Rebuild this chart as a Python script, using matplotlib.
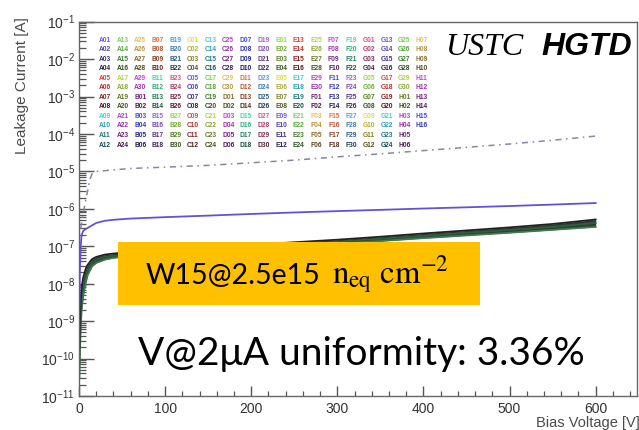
import numpy as np
import matplotlib
matplotlib.use("Agg")
import matplotlib.pyplot as plt
from matplotlib.patches import Rectangle
from matplotlib.ticker import MultipleLocator, FixedLocator, NullFormatter
import matplotlib.colors as mcolors

# ---------------- data ----------------
bundle_voltage = [0.5, 1, 2, 3, 5, 8, 10, 15, 20, 30, 40, 60, 100, 150, 200,
                  250, 300, 350, 400, 450, 500, 550, 600]
bundle_low = [3e-11, 1.5e-10, 6e-10, 2e-9, 5e-9, 1.1e-8, 1.7e-8, 2.9e-8, 3.6e-8,
              4.4e-8, 4.9e-8, 5.5e-8, 6.3e-8, 7.5e-8, 8.7e-8, 1.0e-7, 1.18e-7,
              1.38e-7, 1.65e-7, 1.95e-7, 2.3e-7, 2.75e-7, 3.3e-7]
bundle_mid = [8e-11, 4e-10, 1.5e-9, 4e-9, 9e-9, 1.7e-8, 2.3e-8, 3.6e-8, 4.3e-8,
              5.2e-8, 5.6e-8, 6.2e-8, 7.1e-8, 8.4e-8, 9.8e-8, 1.13e-7, 1.33e-7,
              1.58e-7, 1.9e-7, 2.3e-7, 2.72e-7, 3.3e-7, 4.2e-7]
bundle_high = [2e-10, 1e-9, 4e-9, 8e-9, 1.5e-8, 2.6e-8, 3.2e-8, 4.5e-8, 5.2e-8,
               6.0e-8, 6.4e-8, 7.0e-8, 8.0e-8, 9.5e-8, 1.1e-7, 1.28e-7, 1.5e-7,
               1.8e-7, 2.2e-7, 2.65e-7, 3.2e-7, 3.95e-7, 5.2e-7]

outlier_voltage = [0, 0.5, 1, 2, 3, 5, 8, 10, 15, 20, 30, 40, 60, 100, 150, 200,
                   250, 300, 350, 400, 450, 500, 550, 600]
outlier_current = [1.5e-9, 3e-9, 2e-8, 1e-7, 2e-7, 2.6e-7, 2.9e-7, 3.1e-7, 3.6e-7,
                   4.2e-7, 4.8e-7, 5.1e-7, 5.5e-7, 6.0e-7, 6.6e-7, 7.3e-7, 8.0e-7,
                   8.7e-7, 9.4e-7, 1.02e-6, 1.1e-6, 1.19e-6, 1.3e-6, 1.43e-6]

high_voltage = [2, 5, 8, 10, 12, 15, 20, 40, 60, 100, 150, 200, 250, 300, 350,
                400, 450, 500, 550, 600]
high_current = [3e-7, 8e-7, 1.8e-6, 3e-6, 5.5e-6, 8.5e-6, 1.0e-5, 1.1e-5, 1.2e-5,
                1.3e-5, 1.45e-5, 1.7e-5, 2.0e-5, 2.45e-5, 2.95e-5, 3.6e-5, 4.4e-5,
                5.4e-5, 6.8e-5, 8.8e-5]

wafer_letters = ["A", "B", "C", "D", "E", "F", "G", "H"]
chips_per_wafer = [30, 30, 30, 30, 30, 30, 30, 16]
chip_labels = [f"{L}{n:02d}" for L, c in zip(wafer_letters, chips_per_wafer)
               for n in range(1, c + 1)]

x_ticks = [0, 100, 200, 300, 400, 500, 600]
x_tick_labels = ["0", "100", "200", "300", "400", "500", "600"]
y_exponents = [-11, -10, -9, -8, -7, -6, -5, -4, -3, -2, -1]
y_ticks = [10.0 ** e for e in y_exponents]
y_tick_labels = [rf"$10^{{{e}}}$" for e in y_exponents]

# ---------------- styling ----------------
plt.rcParams["font.family"] = ["Liberation Sans", "DejaVu Sans"]
plt.rcParams["mathtext.fontset"] = "custom"
plt.rcParams["mathtext.rm"] = "Liberation Sans"
plt.rcParams["mathtext.it"] = "Liberation Sans:italic"
plt.rcParams["mathtext.bf"] = "Liberation Sans:bold"

W, H = 639, 430
fig = plt.figure(figsize=(W / 100, H / 100), dpi=100)
fig.patch.set_facecolor("white")

def fx(px):
    return px / W

def fy(py):
    return 1 - py / H

ax_l, ax_r, ax_t, ax_b = 79, 637, 21.7, 396
ax = fig.add_axes([fx(ax_l), fy(ax_b), fx(ax_r - ax_l), (ax_b - ax_t) / H])

ax.set_yscale("log")
ax.set_xlim(0, 648)
ax.set_ylim(1e-11, 1e-1)

# curves
ax.plot(high_voltage, high_current, color="#8585a8", lw=1.1,
        linestyle=(0, (4, 3, 1, 3)), zorder=3)
ax.fill_between(bundle_voltage, bundle_low, bundle_high, color="#2f3a33",
                lw=0, zorder=2)
ax.plot(bundle_voltage, bundle_low, color="#3d7d4d", lw=1.3, zorder=2.5)
ax.plot(bundle_voltage, bundle_mid, color="#2f5f3f", lw=1.3, zorder=2.5)
ax.plot(bundle_voltage, bundle_high, color="#222222", lw=1.3, zorder=2.5)
ax.plot(outlier_voltage, outlier_current, color="#6252d8", lw=1.3, zorder=3)

# axes / ticks
for s in ax.spines.values():
    s.set_color("#666666")
    s.set_linewidth(1.0)
ax.set_xticks(x_ticks)
ax.set_xticklabels(x_tick_labels)
ax.xaxis.set_minor_locator(MultipleLocator(20))
ax.yaxis.set_major_locator(FixedLocator(y_ticks))
ax.set_yticklabels(y_tick_labels)
minor_y = [m * t for t in y_ticks[:-1] for m in range(2, 10)]
ax.yaxis.set_minor_locator(FixedLocator(minor_y))
ax.yaxis.set_minor_formatter(NullFormatter())
ax.tick_params(axis="both", which="both", direction="in", colors="#555555",
               labelcolor="#333333", top=False, right=False)
ax.tick_params(axis="x", which="major", length=7.5, width=1, labelsize=10, pad=4)
ax.tick_params(axis="x", which="minor", length=3.3, width=0.9)
ax.tick_params(axis="y", which="major", length=11, width=1, labelsize=10, pad=3)
ax.tick_params(axis="y", which="minor", length=5, width=0.9)

fig.text(fx(22), fy(17), "Leakage Current [A]", rotation=90, ha="center",
         va="top", fontsize=11, color="#4a4a4a")
fig.text(fx(640), fy(423.5), "Bias Voltage [V]", ha="right", va="center",
         fontsize=10.5, color="#4a4a4a")

# legend grid (coloured chip labels)
hue_groups = ["#6a5ae0", "#e04040", "#40d0e0", "#70d850", "#b0d840", "#c040d0",
              "#e8c050", "#d040e0", "#4848f0", "#e87040", "#40e0a0", "#a060e0",
              "#50a0e0", "#e05090", "#90e040", "#e0e040"]
shade = [1.0, 0.78, 0.58, 0.38]
n_rows = 12
for i, lab in enumerate(chip_labels):
    col, row = divmod(i, n_rows)
    base = np.array(mcolors.to_rgb(hue_groups[(i // 4) % len(hue_groups)]))
    c = base * shade[i % 4]
    fig.text(fx(105 + 17.6 * col), fy(40 + 9.55 * row), lab, ha="center",
             va="center", fontsize=4.8, fontweight="bold", color=c, zorder=4)

# USTC HGTD
fig.text(fx(445), fy(55), "USTC", ha="left", va="baseline", fontsize=23,
         family="Liberation Serif", style="italic", color="black")
fig.text(fx(541), fy(55), "HGTD", ha="left", va="baseline", fontsize=23,
         family="Liberation Sans", style="italic", fontweight="bold", color="black")

# orange annotation box
box_l, box_r, box_t, box_b = 117.5, 480, 242, 305
fig.add_artist(Rectangle((fx(box_l), fy(box_b)), fx(box_r - box_l),
                         (box_b - box_t) / H, transform=fig.transFigure,
                         facecolor="#FFC000", edgecolor="none", zorder=5))
fig.text(fx(146), fy(284), "W15@2.5e15", ha="left", va="baseline", fontsize=20.5,
         family=["Lato", "DejaVu Sans"], color="black", zorder=6)
fig.text(fx(332), fy(284), r"$\mathrm{n}_{\mathrm{eq}}\ \mathrm{cm}^{-2}$",
         ha="left", va="baseline", fontsize=23.5, math_fontfamily="stix",
         color="black", zorder=6)

fig.text(fx(138), fy(365), "V@2μA uniformity: 3.36%", ha="left", va="baseline",
         fontsize=28, family=["Lato", "DejaVu Sans"], color="black", zorder=6)

fig.savefig("out.png", dpi=100)
